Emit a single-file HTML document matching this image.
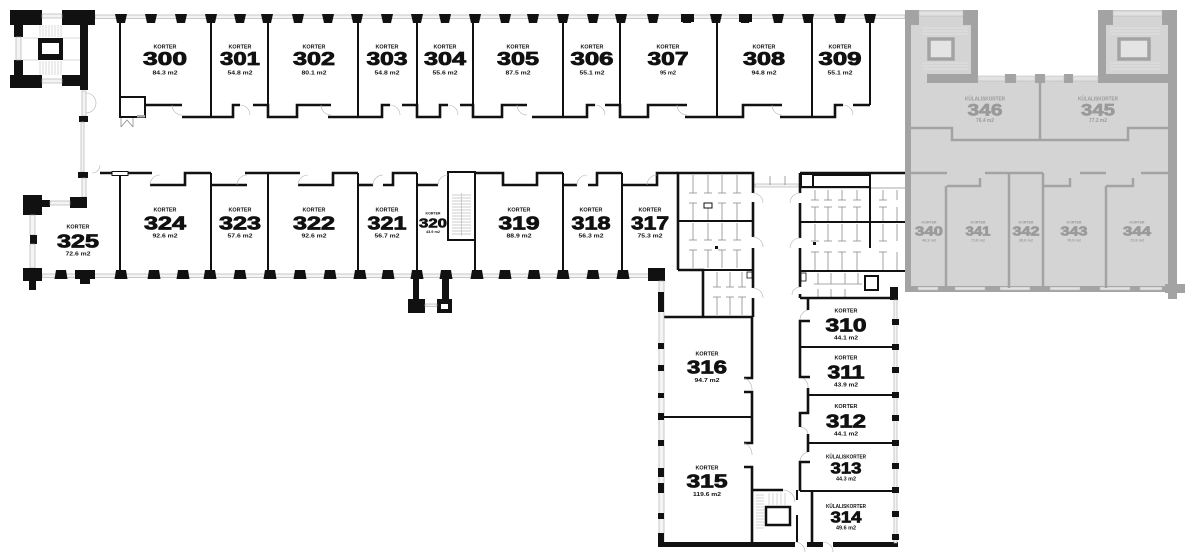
<!DOCTYPE html>
<html><head><meta charset="utf-8"><title>Korrus 3</title>
<style>
html,body{margin:0;padding:0;background:#fff;width:1200px;height:559px;overflow:hidden}
svg{display:block}
text{font-family:"Liberation Sans",Arial,sans-serif;font-weight:bold;text-anchor:middle}
.k{font-size:5.5px;fill:#111}
.n{font-size:18px;fill:#111;stroke:#111;stroke-width:.8}
.a{font-size:5.5px;fill:#111}
.gk{font-size:5px;fill:#9a9a9a}
.gn{font-size:17px;fill:#9a9a9a;stroke:#9a9a9a;stroke-width:.7}
.w{stroke:#111;stroke-width:2.6;fill:none}
.p{stroke:#111;stroke-width:2;fill:none}
.t{stroke:#8c8c8c;stroke-width:.8;fill:none}
.win{stroke:#a8a8a8;stroke-width:.6;fill:#f4f4f4}
.gw{stroke:#a3a3a3;stroke-width:2.5;fill:none}
.arc{stroke:#b0b0b0;stroke-width:.6;fill:none}
</style></head><body>
<svg width="1200" height="559" viewBox="0 0 1200 559" xmlns="http://www.w3.org/2000/svg">
<defs>
<polygon id="pt" points="-6,14 6,14 4,23 -4,23" fill="#111"/>
<polygon id="pb" points="-5,270 5,270 6.5,279 -6.5,279" fill="#111"/>
<rect id="ep" x="892" y="-3" width="7" height="6" fill="#111"/>
</defs>

<!-- ================= GRAY WING ================= -->
<path d="M905,10 H978 V78 H1098 V10 H1177 V292 H905 Z" fill="#d4d4d4"/>
<g stroke="#e6e6e6" stroke-width=".8">
<line x1="922" y1="28" x2="968" y2="28"/><line x1="922" y1="31" x2="968" y2="31"/><line x1="922" y1="34" x2="968" y2="34"/>
<line x1="922" y1="63" x2="968" y2="63"/><line x1="922" y1="66" x2="968" y2="66"/><line x1="922" y1="69" x2="968" y2="69"/>
<line x1="1110" y1="28" x2="1160" y2="28"/><line x1="1110" y1="31" x2="1160" y2="31"/><line x1="1110" y1="34" x2="1160" y2="34"/>
<line x1="1110" y1="63" x2="1160" y2="63"/><line x1="1110" y1="66" x2="1160" y2="66"/><line x1="1110" y1="69" x2="1160" y2="69"/>
</g>
<g fill="#a3a3a3">
<rect x="905" y="10" width="14" height="15"/>
<rect x="905" y="10" width="6" height="282"/>
<rect x="963" y="10" width="15" height="15"/>
<rect x="971" y="10" width="7" height="73"/>
<rect x="927" y="74" width="51" height="9"/>
<rect x="1098" y="10" width="15" height="15"/>
<rect x="1098" y="10" width="8" height="73"/>
<rect x="1162" y="10" width="15" height="15"/>
<rect x="1168" y="10" width="9" height="282"/>
<rect x="1098" y="74" width="70" height="9"/>
<rect x="1005" y="74" width="11" height="9"/>
<rect x="1035" y="74" width="10" height="9"/>
<rect x="1064" y="74" width="9" height="9"/>
<rect x="905" y="286" width="272" height="6"/>
<rect x="1165" y="284" width="20" height="9"/>
<rect x="1168" y="292" width="9" height="7"/>
</g>
<g fill="#e2e2e2" stroke="#b5b5b5" stroke-width=".5">
<rect x="919" y="11" width="44" height="5"/>
<rect x="1113" y="11" width="49" height="5"/>
<rect x="978" y="76" width="27" height="5"/>
<rect x="1016" y="76" width="19" height="5"/>
<rect x="1045" y="76" width="19" height="5"/>
<rect x="1073" y="76" width="25" height="5"/>
<rect x="918" y="287" width="20" height="3"/>
<rect x="955" y="287" width="30" height="3"/>
<rect x="1000" y="287" width="30" height="3"/>
<rect x="1050" y="287" width="30" height="3"/>
<rect x="1100" y="287" width="30" height="3"/>
<rect x="1140" y="287" width="22" height="3"/>
</g>
<rect x="929" y="39" width="24" height="20" fill="#e4e4e4" stroke="#a3a3a3" stroke-width="3.5"/>
<rect x="1119" y="39" width="30" height="20" fill="#e4e4e4" stroke="#a3a3a3" stroke-width="3.5"/>
<g class="gw">
<polyline points="911,128 952,128 952,140 1128,140 1128,128 1168,128"/>
<line x1="1040" y1="83" x2="1040" y2="140"/>
<polyline points="907,173 947,173"/>
<polyline points="947,186 980,186 980,178"/>
<polyline points="985,173 1043,173"/>
<polyline points="1043,186 1070,186 1070,178"/>
<polyline points="1080,173 1106,173"/>
<polyline points="1106,186 1133,186 1133,178"/>
<polyline points="1141,173 1168,173"/>
<line x1="946" y1="186" x2="946" y2="288"/>
<line x1="1009" y1="173" x2="1009" y2="288"/>
<line x1="1043" y1="173" x2="1043" y2="288"/>
<line x1="1106" y1="186" x2="1106" y2="288"/>
</g>
<text class="gk" x="985" y="100.5" textLength="40" lengthAdjust="spacingAndGlyphs">KÜLALISKORTER</text>
<text class="gn" x="985" y="115.5" textLength="35" lengthAdjust="spacingAndGlyphs">346</text>
<text class="gk" x="985" y="122" textLength="18" lengthAdjust="spacingAndGlyphs">76.4 m2</text>
<text class="gk" x="1098" y="100.5" textLength="40" lengthAdjust="spacingAndGlyphs">KÜLALISKORTER</text>
<text class="gn" x="1098" y="115.5" textLength="34" lengthAdjust="spacingAndGlyphs">345</text>
<text class="gk" x="1098" y="122" textLength="18" lengthAdjust="spacingAndGlyphs">77.2 m2</text>
<g>
<text class="gk" x="929" y="223.5" style="font-size:4px" textLength="15" lengthAdjust="spacingAndGlyphs">KORTER</text>
<text class="gn" x="929" y="235.5" style="font-size:12.5px" textLength="28" lengthAdjust="spacingAndGlyphs">340</text>
<text class="gk" x="929" y="241.5" style="font-size:4px" textLength="14" lengthAdjust="spacingAndGlyphs">43.3 m2</text>
<text class="gk" x="978" y="223.5" style="font-size:4px" textLength="15" lengthAdjust="spacingAndGlyphs">KORTER</text>
<text class="gn" x="978" y="235.5" style="font-size:12.5px" textLength="25" lengthAdjust="spacingAndGlyphs">341</text>
<text class="gk" x="978" y="241.5" style="font-size:4px" textLength="14" lengthAdjust="spacingAndGlyphs">71.8 m2</text>
<text class="gk" x="1026" y="223.5" style="font-size:4px" textLength="15" lengthAdjust="spacingAndGlyphs">KORTER</text>
<text class="gn" x="1026" y="235.5" style="font-size:12.5px" textLength="27" lengthAdjust="spacingAndGlyphs">342</text>
<text class="gk" x="1026" y="241.5" style="font-size:4px" textLength="14" lengthAdjust="spacingAndGlyphs">39.8 m2</text>
<text class="gk" x="1074" y="223.5" style="font-size:4px" textLength="15" lengthAdjust="spacingAndGlyphs">KORTER</text>
<text class="gn" x="1074" y="235.5" style="font-size:12.5px" textLength="27" lengthAdjust="spacingAndGlyphs">343</text>
<text class="gk" x="1074" y="241.5" style="font-size:4px" textLength="14" lengthAdjust="spacingAndGlyphs">70.9 m2</text>
<text class="gk" x="1137" y="223.5" style="font-size:4px" textLength="15" lengthAdjust="spacingAndGlyphs">KORTER</text>
<text class="gn" x="1137" y="235.5" style="font-size:12.5px" textLength="28" lengthAdjust="spacingAndGlyphs">344</text>
<text class="gk" x="1137" y="241.5" style="font-size:4px" textLength="14" lengthAdjust="spacingAndGlyphs">72.8 m2</text>
</g>

<!-- ================= FACADES ================= -->
<rect x="95" y="15" width="810" height="3.5" class="win"/>
<use href="#pt" x="121"/><use href="#pt" x="151"/><use href="#pt" x="181"/><use href="#pt" x="211"/>
<use href="#pt" x="240"/><use href="#pt" x="267"/><use href="#pt" x="298"/><use href="#pt" x="328"/>
<use href="#pt" x="357"/><use href="#pt" x="387"/><use href="#pt" x="417"/><use href="#pt" x="445"/>
<use href="#pt" x="475"/><use href="#pt" x="505"/><use href="#pt" x="533"/><use href="#pt" x="563"/>
<use href="#pt" x="593"/><use href="#pt" x="621"/><use href="#pt" x="653"/><use href="#pt" x="687"/>
<use href="#pt" x="716"/><use href="#pt" x="745"/><use href="#pt" x="778"/><use href="#pt" x="808"/>
<use href="#pt" x="840"/><use href="#pt" x="870"/>
<rect x="681" y="14" width="13" height="8" fill="#111"/>
<rect x="739" y="14" width="13" height="8" fill="#111"/>

<rect x="42" y="274" width="618" height="3.5" class="win"/>
<use href="#pb" x="61"/><use href="#pb" x="121"/><use href="#pb" x="154"/><use href="#pb" x="183"/>
<use href="#pb" x="210"/><use href="#pb" x="240"/><use href="#pb" x="270"/><use href="#pb" x="300"/>
<use href="#pb" x="330"/><use href="#pb" x="360"/><use href="#pb" x="388"/><use href="#pb" x="417"/>
<use href="#pb" x="446"/><use href="#pb" x="477"/><use href="#pb" x="505"/><use href="#pb" x="534"/>
<use href="#pb" x="563"/><use href="#pb" x="593"/><use href="#pb" x="623"/>
<g fill="#111">
<rect x="75" y="270" width="20" height="9"/><rect x="80" y="278" width="10" height="6"/>
<rect x="648" y="268" width="17" height="13"/>
<!-- south tower bits -->
<rect x="413" y="278" width="6" height="22"/>
<rect x="408" y="299" width="17" height="14"/>
<rect x="442" y="278" width="7" height="22"/>
<rect x="437" y="299" width="15" height="14"/>
</g>
<rect x="441" y="304" width="7" height="5" fill="#fff"/>
<rect x="425" y="304" width="12" height="2.5" class="win"/>

<!-- ================= WEST TOWER ================= -->
<g stroke="#cfcfcf" stroke-width=".8">
<line x1="40" y1="25" x2="40" y2="37"/><line x1="43" y1="25" x2="43" y2="37"/><line x1="46" y1="25" x2="46" y2="37"/><line x1="49" y1="25" x2="49" y2="37"/><line x1="52" y1="25" x2="52" y2="37"/><line x1="55" y1="25" x2="55" y2="37"/><line x1="58" y1="25" x2="58" y2="37"/><line x1="61" y1="25" x2="61" y2="37"/>
<line x1="40" y1="61" x2="40" y2="75"/><line x1="43" y1="61" x2="43" y2="75"/><line x1="46" y1="61" x2="46" y2="75"/><line x1="49" y1="61" x2="49" y2="75"/><line x1="52" y1="61" x2="52" y2="75"/><line x1="55" y1="61" x2="55" y2="75"/><line x1="58" y1="61" x2="58" y2="75"/><line x1="61" y1="61" x2="61" y2="75"/>
<line x1="23" y1="38" x2="38" y2="38"/><line x1="23" y1="60" x2="38" y2="60"/>
<line x1="63" y1="38" x2="80" y2="38"/><line x1="63" y1="60" x2="80" y2="60"/>
</g>
<g fill="#111">
<rect x="10" y="10" width="32" height="15"/>
<rect x="14" y="10" width="9" height="27"/>
<rect x="14" y="60" width="9" height="28"/>
<rect x="10" y="75" width="32" height="13"/>
<rect x="62" y="10" width="33" height="15"/>
<rect x="80" y="10" width="8" height="80"/>
<rect x="62" y="75" width="26" height="11"/>
<rect x="38" y="38" width="25" height="22"/>
</g>
<rect x="42" y="43" width="17" height="11" fill="#fff"/>
<rect x="42" y="14" width="20" height="4" class="win"/>
<rect x="42" y="79" width="20" height="4" class="win"/>
<rect x="16" y="37" width="5" height="23" class="win"/>

<!-- west corridor wall + 325 -->
<rect x="82" y="91" width="4" height="25" class="win"/>
<path d="M86,93 A10,10 0 0 1 86,113" class="arc"/>
<rect x="79" y="116" width="9" height="6" fill="#111"/>
<rect x="81" y="122" width="3" height="50" class="win"/>
<rect x="78" y="172" width="10" height="6" fill="#111"/>
<rect x="82" y="178" width="4" height="19" class="win"/>
<rect x="70" y="197" width="17" height="11" fill="#111"/>
<rect x="42" y="200" width="8" height="7" fill="#111"/>
<rect x="50" y="201" width="20" height="4" class="win"/>
<rect x="23" y="195" width="19" height="20" fill="#111"/>
<rect x="30" y="215" width="5" height="20" class="win"/>
<rect x="30" y="235" width="7" height="9" fill="#111"/>
<rect x="30" y="244" width="5" height="24" class="win"/>
<rect x="23" y="268" width="19" height="13" fill="#111"/>
<rect x="29" y="280" width="7" height="10" fill="#111"/>
<path d="M92,173 A8,8 0 0 0 100,165" class="arc"/>

<!-- ================= NORTH WING ================= -->
<g class="p">
<line x1="120" y1="17" x2="120" y2="97"/>
<line x1="211" y1="17" x2="211" y2="117"/>
<line x1="268" y1="17" x2="268" y2="105"/>
<line x1="358" y1="17" x2="358" y2="117"/>
<line x1="417" y1="17" x2="417" y2="105"/>
<line x1="473" y1="17" x2="473" y2="105"/>
<line x1="563" y1="17" x2="563" y2="117"/>
<line x1="620" y1="17" x2="620" y2="105"/>
<line x1="717" y1="17" x2="717" y2="117"/>
<line x1="812" y1="17" x2="812" y2="117"/>
<line x1="870" y1="17" x2="870" y2="105"/>
<rect x="120" y="97" width="25" height="20"/>
</g>
<rect x="137" y="115" width="8" height="2.5" fill="#aaa"/>
<g class="t"><line x1="121" y1="118" x2="121" y2="127"/><line x1="133" y1="118" x2="133" y2="127"/><path d="M121,127 L127,120 L133,127"/></g>
<g class="w">
<polyline points="145,105 182,105"/>
<polyline points="182,117 233,117 233,105 240,105"/>
<polyline points="253,105 268,105 268,117 297,117 297,105 331,105"/>
<polyline points="328,117 382,117 382,105 390,105"/>
<polyline points="402,105 417,105 417,117 440,117 440,105 448,105"/>
<polyline points="460,105 473,105 473,117 502,117 502,105 527,105"/>
<polyline points="532,117 587,117 587,105 595,105"/>
<polyline points="605,105 620,105 620,117 648,117 648,105 687,105"/>
<polyline points="685,117 743,117 743,105 782,105"/>
<polyline points="780,117 835,117 835,105 843,105"/>
<polyline points="853,105 870,105"/>
</g>
<g class="arc">
<path d="M172,105 A10,10 0 0 0 182,115"/>
<path d="M240,105 A10,10 0 0 1 250,115"/>
<path d="M321,105 A10,10 0 0 0 331,115"/>
<path d="M390,105 A10,10 0 0 1 400,115"/>
<path d="M448,105 A10,10 0 0 1 458,115"/>
<path d="M517,105 A10,10 0 0 0 527,115"/>
<path d="M595,105 A10,10 0 0 1 605,115"/>
<path d="M677,105 A10,10 0 0 0 687,115"/>
<path d="M772,105 A10,10 0 0 0 782,115"/>
<path d="M843,105 A10,10 0 0 1 853,115"/>
</g>

<text class="k" x="165" y="48.5" textLength="23" lengthAdjust="spacingAndGlyphs">KORTER</text>
<text class="n" x="165" y="65" textLength="44" lengthAdjust="spacingAndGlyphs">300</text>
<text class="a" x="165" y="74.5" textLength="25" lengthAdjust="spacingAndGlyphs">84.3 m2</text>
<text class="k" x="240" y="48.5" textLength="23" lengthAdjust="spacingAndGlyphs">KORTER</text>
<text class="n" x="240" y="65" textLength="40" lengthAdjust="spacingAndGlyphs">301</text>
<text class="a" x="240" y="74.5" textLength="25" lengthAdjust="spacingAndGlyphs">54.8 m2</text>
<text class="k" x="314" y="48.5" textLength="23" lengthAdjust="spacingAndGlyphs">KORTER</text>
<text class="n" x="314" y="65" textLength="42" lengthAdjust="spacingAndGlyphs">302</text>
<text class="a" x="314" y="74.5" textLength="25" lengthAdjust="spacingAndGlyphs">80.1 m2</text>
<text class="k" x="387" y="48.5" textLength="23" lengthAdjust="spacingAndGlyphs">KORTER</text>
<text class="n" x="387" y="65" textLength="41" lengthAdjust="spacingAndGlyphs">303</text>
<text class="a" x="387" y="74.5" textLength="25" lengthAdjust="spacingAndGlyphs">54.8 m2</text>
<text class="k" x="445" y="48.5" textLength="23" lengthAdjust="spacingAndGlyphs">KORTER</text>
<text class="n" x="445" y="65" textLength="42" lengthAdjust="spacingAndGlyphs">304</text>
<text class="a" x="445" y="74.5" textLength="25" lengthAdjust="spacingAndGlyphs">55.6 m2</text>
<text class="k" x="518" y="48.5" textLength="23" lengthAdjust="spacingAndGlyphs">KORTER</text>
<text class="n" x="518" y="65" textLength="42" lengthAdjust="spacingAndGlyphs">305</text>
<text class="a" x="518" y="74.5" textLength="25" lengthAdjust="spacingAndGlyphs">87.5 m2</text>
<text class="k" x="592" y="48.5" textLength="23" lengthAdjust="spacingAndGlyphs">KORTER</text>
<text class="n" x="592" y="65" textLength="43" lengthAdjust="spacingAndGlyphs">306</text>
<text class="a" x="592" y="74.5" textLength="25" lengthAdjust="spacingAndGlyphs">55.1 m2</text>
<text class="k" x="668" y="48.5" textLength="23" lengthAdjust="spacingAndGlyphs">KORTER</text>
<text class="n" x="668" y="65" textLength="41" lengthAdjust="spacingAndGlyphs">307</text>
<text class="a" x="668" y="74.5" textLength="16" lengthAdjust="spacingAndGlyphs">95 m2</text>
<text class="k" x="764" y="48.5" textLength="23" lengthAdjust="spacingAndGlyphs">KORTER</text>
<text class="n" x="764" y="65" textLength="42" lengthAdjust="spacingAndGlyphs">308</text>
<text class="a" x="764" y="74.5" textLength="25" lengthAdjust="spacingAndGlyphs">94.8 m2</text>
<text class="k" x="840" y="48.5" textLength="23" lengthAdjust="spacingAndGlyphs">KORTER</text>
<text class="n" x="840" y="65" textLength="43" lengthAdjust="spacingAndGlyphs">309</text>
<text class="a" x="840" y="74.5" textLength="25" lengthAdjust="spacingAndGlyphs">55.1 m2</text>

<!-- ================= SOUTH ROW ================= -->
<g class="p">
<line x1="120" y1="173" x2="120" y2="275"/>
<line x1="211" y1="173" x2="211" y2="275"/>
<line x1="268" y1="173" x2="268" y2="275"/>
<line x1="358" y1="173" x2="358" y2="275"/>
<line x1="417" y1="173" x2="417" y2="275"/>
<line x1="475" y1="173" x2="475" y2="275"/>
<line x1="563" y1="173" x2="563" y2="275"/>
<line x1="622" y1="173" x2="622" y2="275"/>
<rect x="448" y="172" width="27" height="68"/>
</g>
<g class="w">
<polyline points="100,173 152,173"/>
<polyline points="150,185 185,185 185,173 211,173"/>
<polyline points="211,185 247,185"/>
<polyline points="245,173 300,173"/>
<polyline points="298,185 333,185 333,173 358,173"/>
<polyline points="358,185 373,185"/>
<polyline points="383,185 393,185 393,173 417,173"/>
<polyline points="417,185 438,185"/>
<polyline points="475,173 503,173 503,185 537,185 537,173 563,173"/>
<polyline points="563,185 577,185"/>
<polyline points="588,185 597,185 597,173 622,173"/>
<polyline points="622,185 657,185 657,173 678,173"/>
</g>
<rect x="112" y="171.5" width="16" height="4" fill="#fff" stroke="#111" stroke-width="1"/>
<g class="arc">
<path d="M150,185 A10,10 0 0 1 160,175"/>
<path d="M237,185 A10,10 0 0 1 247,175"/>
<path d="M298,185 A10,10 0 0 1 308,175"/>
<path d="M373,185 A10,10 0 0 1 383,175"/>
<path d="M438,185 A10,10 0 0 1 448,175"/>
<path d="M577,185 A10,10 0 0 1 587,175"/>
<path d="M647,185 A10,10 0 0 1 657,175"/>
</g>
<g stroke="#bdbdbd" stroke-width=".7">
<line x1="452" y1="195" x2="471" y2="195"/><line x1="452" y1="198" x2="471" y2="198"/><line x1="452" y1="201" x2="471" y2="201"/>
<line x1="452" y1="204" x2="471" y2="204"/><line x1="452" y1="207" x2="471" y2="207"/><line x1="452" y1="210" x2="471" y2="210"/>
<line x1="452" y1="213" x2="471" y2="213"/><line x1="452" y1="216" x2="471" y2="216"/><line x1="452" y1="219" x2="471" y2="219"/>
<line x1="452" y1="222" x2="471" y2="222"/><line x1="452" y1="225" x2="471" y2="225"/><line x1="452" y1="228" x2="471" y2="228"/>
<line x1="452" y1="231" x2="471" y2="231"/><line x1="452" y1="234" x2="471" y2="234"/>
<line x1="461.5" y1="193" x2="461.5" y2="236"/>
</g>

<text class="k" x="78" y="228.5" textLength="23" lengthAdjust="spacingAndGlyphs">KORTER</text>
<text class="n" x="78" y="247.5" textLength="42" lengthAdjust="spacingAndGlyphs">325</text>
<text class="a" x="78" y="255.5" textLength="25" lengthAdjust="spacingAndGlyphs">72.6 m2</text>
<text class="k" x="165" y="211.5" textLength="23" lengthAdjust="spacingAndGlyphs">KORTER</text>
<text class="n" x="165" y="229.5" textLength="42" lengthAdjust="spacingAndGlyphs">324</text>
<text class="a" x="165" y="237.5" textLength="25" lengthAdjust="spacingAndGlyphs">92.6 m2</text>
<text class="k" x="240" y="211.5" textLength="23" lengthAdjust="spacingAndGlyphs">KORTER</text>
<text class="n" x="240" y="229.5" textLength="42" lengthAdjust="spacingAndGlyphs">323</text>
<text class="a" x="240" y="237.5" textLength="25" lengthAdjust="spacingAndGlyphs">57.6 m2</text>
<text class="k" x="314" y="211.5" textLength="23" lengthAdjust="spacingAndGlyphs">KORTER</text>
<text class="n" x="314" y="229.5" textLength="42" lengthAdjust="spacingAndGlyphs">322</text>
<text class="a" x="314" y="237.5" textLength="25" lengthAdjust="spacingAndGlyphs">92.6 m2</text>
<text class="k" x="387" y="211.5" textLength="23" lengthAdjust="spacingAndGlyphs">KORTER</text>
<text class="n" x="387" y="229.5" textLength="39" lengthAdjust="spacingAndGlyphs">321</text>
<text class="a" x="387" y="237.5" textLength="25" lengthAdjust="spacingAndGlyphs">56.7 m2</text>
<text class="k" x="433" y="214.5" style="font-size:4px" textLength="15" lengthAdjust="spacingAndGlyphs">KORTER</text>
<text class="n" x="433" y="227.5" style="font-size:12.5px;stroke-width:.6" textLength="28" lengthAdjust="spacingAndGlyphs">320</text>
<text class="a" x="433" y="232.8" style="font-size:4px" textLength="14" lengthAdjust="spacingAndGlyphs">43.9 m2</text>
<text class="k" x="519" y="211.5" textLength="23" lengthAdjust="spacingAndGlyphs">KORTER</text>
<text class="n" x="519" y="229.5" textLength="41" lengthAdjust="spacingAndGlyphs">319</text>
<text class="a" x="519" y="237.5" textLength="25" lengthAdjust="spacingAndGlyphs">88.9 m2</text>
<text class="k" x="591" y="211.5" textLength="23" lengthAdjust="spacingAndGlyphs">KORTER</text>
<text class="n" x="591" y="229.5" textLength="39" lengthAdjust="spacingAndGlyphs">318</text>
<text class="a" x="591" y="237.5" textLength="25" lengthAdjust="spacingAndGlyphs">56.3 m2</text>
<text class="k" x="650" y="211.5" textLength="23" lengthAdjust="spacingAndGlyphs">KORTER</text>
<text class="n" x="650" y="229.5" textLength="38" lengthAdjust="spacingAndGlyphs">317</text>
<text class="a" x="650" y="237.5" textLength="25" lengthAdjust="spacingAndGlyphs">75.3 m2</text>

<!-- ================= LAVATORY BLOCK A ================= -->
<g class="t">
<line x1="693" y1="175" x2="693" y2="193"/><line x1="708" y1="175" x2="708" y2="193"/><line x1="722" y1="175" x2="722" y2="193"/><line x1="737" y1="175" x2="737" y2="193"/>
<line x1="689" y1="193" x2="697" y2="193"/><line x1="704" y1="193" x2="712" y2="193"/><line x1="718" y1="193" x2="726" y2="193"/><line x1="733" y1="193" x2="741" y2="193"/>
<line x1="693" y1="203" x2="693" y2="220"/><line x1="708" y1="208" x2="708" y2="220"/><line x1="722" y1="203" x2="722" y2="220"/><line x1="737" y1="203" x2="737" y2="220"/>
<line x1="689" y1="203" x2="697" y2="203"/><line x1="718" y1="203" x2="726" y2="203"/><line x1="733" y1="203" x2="741" y2="203"/>
<line x1="693" y1="223" x2="693" y2="240"/><line x1="708" y1="223" x2="708" y2="240"/><line x1="722" y1="223" x2="722" y2="240"/><line x1="737" y1="223" x2="737" y2="240"/>
<line x1="689" y1="240" x2="697" y2="240"/><line x1="704" y1="240" x2="712" y2="240"/><line x1="718" y1="240" x2="726" y2="240"/><line x1="733" y1="240" x2="741" y2="240"/>
<line x1="693" y1="250" x2="693" y2="268"/><line x1="708" y1="250" x2="708" y2="268"/><line x1="722" y1="250" x2="722" y2="268"/><line x1="737" y1="250" x2="737" y2="268"/>
<line x1="689" y1="250" x2="697" y2="250"/><line x1="704" y1="250" x2="712" y2="250"/><line x1="718" y1="250" x2="726" y2="250"/><line x1="733" y1="250" x2="741" y2="250"/>
<line x1="717" y1="272" x2="717" y2="287"/><line x1="730" y1="272" x2="730" y2="287"/><line x1="742" y1="272" x2="742" y2="287"/>
<line x1="713" y1="287" x2="721" y2="287"/><line x1="726" y1="287" x2="734" y2="287"/><line x1="738" y1="287" x2="746" y2="287"/>
<line x1="717" y1="297" x2="717" y2="315"/><line x1="730" y1="297" x2="730" y2="315"/><line x1="742" y1="297" x2="742" y2="315"/>
<line x1="713" y1="297" x2="721" y2="297"/><line x1="726" y1="297" x2="734" y2="297"/><line x1="738" y1="297" x2="746" y2="297"/>
</g>
<rect x="704" y="203" width="8" height="5" fill="#fff" stroke="#111" stroke-width="1"/>
<rect x="715" y="246" width="3" height="3" fill="#111"/>
<rect x="747" y="272" width="5" height="6" fill="none" stroke="#111" stroke-width=".8"/>
<g class="w">
<polyline points="678,270 678,173 753,173 753,193"/>
<line x1="753" y1="202" x2="753" y2="237"/>
<line x1="753" y1="248" x2="753" y2="288"/>
<line x1="753" y1="298" x2="753" y2="317"/>
<polyline points="678,270 703,270 703,317"/>
<line x1="660" y1="317" x2="753" y2="317"/>
</g>
<line class="p" x1="678" y1="221" x2="753" y2="221"/>
<line class="p" x1="703" y1="270" x2="753" y2="270" stroke-width="1.6"/>
<g class="arc">
<path d="M753,193 A10,10 0 0 1 763,203"/>
<path d="M753,237 A10,10 0 0 1 763,247"/>
<path d="M753,288 A10,10 0 0 1 763,298"/>
</g>

<!-- corridor glass door -->
<rect x="755" y="184" width="44" height="3" class="win"/>
<g class="t"><line x1="770" y1="176" x2="770" y2="185"/><line x1="785" y1="176" x2="785" y2="185"/></g>

<!-- ================= LAVATORY BLOCK B ================= -->
<g class="t">
<line x1="800" y1="188" x2="905" y2="188"/>
<line x1="815" y1="190" x2="815" y2="200"/><line x1="828" y1="190" x2="828" y2="200"/><line x1="842" y1="190" x2="842" y2="200"/><line x1="857" y1="190" x2="857" y2="200"/><line x1="883" y1="190" x2="883" y2="200"/><line x1="897" y1="190" x2="897" y2="200"/>
<line x1="811" y1="200" x2="819" y2="200"/><line x1="824" y1="200" x2="832" y2="200"/><line x1="838" y1="200" x2="846" y2="200"/><line x1="853" y1="200" x2="861" y2="200"/><line x1="879" y1="200" x2="887" y2="200"/>
<line x1="815" y1="207" x2="815" y2="221"/><line x1="828" y1="207" x2="828" y2="221"/><line x1="842" y1="207" x2="842" y2="221"/><line x1="857" y1="207" x2="857" y2="221"/><line x1="883" y1="207" x2="883" y2="221"/><line x1="897" y1="207" x2="897" y2="221"/>
<line x1="811" y1="207" x2="819" y2="207"/><line x1="824" y1="207" x2="832" y2="207"/><line x1="838" y1="207" x2="846" y2="207"/><line x1="853" y1="207" x2="861" y2="207"/><line x1="879" y1="207" x2="887" y2="207"/>
<line x1="815" y1="224" x2="815" y2="241"/><line x1="828" y1="224" x2="828" y2="241"/><line x1="842" y1="224" x2="842" y2="241"/><line x1="857" y1="224" x2="857" y2="241"/><line x1="883" y1="224" x2="883" y2="241"/><line x1="897" y1="224" x2="897" y2="241"/>
<line x1="811" y1="241" x2="819" y2="241"/><line x1="824" y1="241" x2="832" y2="241"/><line x1="838" y1="241" x2="846" y2="241"/><line x1="853" y1="241" x2="861" y2="241"/><line x1="879" y1="241" x2="887" y2="241"/>
<line x1="815" y1="252" x2="815" y2="270"/><line x1="828" y1="252" x2="828" y2="270"/><line x1="842" y1="252" x2="842" y2="270"/><line x1="857" y1="252" x2="857" y2="270"/><line x1="883" y1="252" x2="883" y2="270"/><line x1="897" y1="252" x2="897" y2="270"/>
<line x1="811" y1="252" x2="819" y2="252"/><line x1="824" y1="252" x2="832" y2="252"/><line x1="838" y1="252" x2="846" y2="252"/><line x1="853" y1="252" x2="861" y2="252"/><line x1="879" y1="252" x2="887" y2="252"/>
<line x1="818" y1="273" x2="818" y2="284"/><line x1="831" y1="273" x2="831" y2="284"/><line x1="845" y1="273" x2="845" y2="284"/><line x1="858" y1="273" x2="858" y2="284"/>
<line x1="814" y1="284" x2="862" y2="284"/>
<line x1="818" y1="289" x2="818" y2="297"/><line x1="831" y1="289" x2="831" y2="297"/><line x1="845" y1="289" x2="845" y2="297"/>
</g>
<rect x="801" y="273" width="5" height="8" fill="none" stroke="#111" stroke-width=".8"/>
<rect x="813" y="242" width="3" height="3" fill="#111"/>
<g class="w">
<line x1="800" y1="173" x2="905" y2="173"/>
<line x1="800" y1="173" x2="800" y2="193"/>
<line x1="800" y1="203" x2="800" y2="238"/>
<line x1="800" y1="248" x2="800" y2="287"/>
<line x1="800" y1="294" x2="800" y2="298"/>
<line x1="800" y1="298" x2="898" y2="298"/>
</g>
<rect class="p" x="801" y="174" width="12" height="13" stroke-width="1.6"/>
<rect class="p" x="813" y="175" width="57" height="12" stroke-width="1.4"/>
<line class="p" x1="800" y1="222" x2="905" y2="222" stroke-width="1.5"/>
<line class="p" x1="800" y1="271" x2="905" y2="271" stroke-width="1.5"/>
<line class="p" x1="870" y1="188" x2="870" y2="248" stroke-width="1.5"/>
<rect class="p" x="865" y="276" width="13" height="14" stroke-width="1.4"/>
<rect fill="#111" x="890" y="287" width="8" height="13"/>
<g class="arc">
<path d="M800,193 A10,10 0 0 0 790,203"/>
<path d="M800,238 A10,10 0 0 0 790,248"/>
<path d="M800,287 A8,8 0 0 0 792,295"/>
</g>

<!-- ================= EAST WING ================= -->
<rect x="659" y="281" width="5" height="262" class="win"/>
<g fill="#111">
<rect x="658" y="292" width="6" height="20"/>
<rect x="658" y="343" width="6" height="6"/>
<rect x="658" y="365" width="6" height="6"/>
<rect x="658" y="393" width="6" height="5"/>
<rect x="658" y="413" width="6" height="7"/>
<rect x="658" y="440" width="6" height="6"/>
<rect x="658" y="468" width="6" height="9"/>
<rect x="658" y="483" width="6" height="10"/>
<rect x="658" y="513" width="6" height="6"/>
<rect x="658" y="533" width="6" height="14"/>
<rect x="658" y="542" width="137" height="5"/>
<rect x="807" y="542" width="16" height="5"/>
<rect x="833" y="542" width="65" height="5"/>
</g>
<line class="p" x1="662" y1="417" x2="753" y2="417"/>
<g class="w">
<polyline points="752,317 752,378 744,378"/>
<polyline points="744,392 752,392 752,443 744,443"/>
<polyline points="744,467 752,467 752,543"/>
<line x1="753" y1="490" x2="783" y2="490"/>
</g>
<line class="p" x1="797" y1="490" x2="797" y2="500" stroke-width="1"/>
<line class="p" x1="797" y1="515" x2="797" y2="542" stroke-width="1"/>
<rect x="766" y="507" width="24" height="18" fill="none" stroke="#111" stroke-width="2.5"/>
<g stroke="#c4c4c4" stroke-width=".7">
<line x1="756" y1="495" x2="764" y2="495"/><line x1="756" y1="498" x2="764" y2="498"/><line x1="756" y1="501" x2="764" y2="501"/>
<line x1="756" y1="504" x2="764" y2="504"/><line x1="756" y1="507" x2="764" y2="507"/><line x1="756" y1="510" x2="764" y2="510"/>
<line x1="756" y1="513" x2="764" y2="513"/><line x1="756" y1="516" x2="764" y2="516"/><line x1="756" y1="519" x2="764" y2="519"/>
<line x1="756" y1="522" x2="764" y2="522"/><line x1="756" y1="525" x2="764" y2="525"/><line x1="756" y1="528" x2="764" y2="528"/>
<line x1="769" y1="493" x2="769" y2="505"/><line x1="773" y1="493" x2="773" y2="505"/><line x1="777" y1="493" x2="777" y2="505"/><line x1="781" y1="493" x2="781" y2="505"/><line x1="785" y1="493" x2="785" y2="505"/>
</g>
<g class="arc">
<path d="M744,378 A12,12 0 0 1 752,390"/>
<path d="M744,443 A12,12 0 0 1 752,455"/>
<path d="M783,490 A12,12 0 0 1 795,502"/>
<path d="M808,310 A10,10 0 0 0 800,320"/>
<path d="M800,377 A10,10 0 0 1 808,388"/>
<path d="M800,427 A8,8 0 0 1 808,434"/>
<path d="M808,452 A10,10 0 0 0 800,462"/>
<path d="M795,542 A10,10 0 0 1 805,552"/>
<path d="M823,542 A10,10 0 0 1 833,552"/>
</g>
<g class="w">
<line x1="808" y1="298" x2="808" y2="310"/>
<polyline points="810,321 800,321 800,377 810,377"/>
<polyline points="808,388 808,413 800,413 800,427"/>
<polyline points="808,434 808,452"/>
<polyline points="810,462 800,462 800,491"/>
<line x1="812" y1="491" x2="812" y2="543"/>
</g>
<g class="p">
<line x1="800" y1="347" x2="896" y2="347"/>
<line x1="808" y1="395" x2="896" y2="395"/>
<line x1="808" y1="443" x2="896" y2="443"/>
<line x1="800" y1="491" x2="896" y2="491"/>
</g>
<rect x="894" y="300" width="3" height="243" class="win"/>
<use href="#ep" y="322"/><use href="#ep" y="347"/><use href="#ep" y="370"/><use href="#ep" y="395"/>
<use href="#ep" y="418"/><use href="#ep" y="443"/><use href="#ep" y="466"/><use href="#ep" y="490"/>
<use href="#ep" y="514"/><use href="#ep" y="537"/>

<text class="k" x="707" y="355.5" textLength="23" lengthAdjust="spacingAndGlyphs">KORTER</text>
<text class="n" x="707" y="373.5" textLength="40" lengthAdjust="spacingAndGlyphs">316</text>
<text class="a" x="707" y="382" textLength="25" lengthAdjust="spacingAndGlyphs">94.7 m2</text>
<text class="k" x="707" y="469.5" textLength="23" lengthAdjust="spacingAndGlyphs">KORTER</text>
<text class="n" x="707" y="487.5" textLength="41" lengthAdjust="spacingAndGlyphs">315</text>
<text class="a" x="707" y="496" textLength="28" lengthAdjust="spacingAndGlyphs">119.6 m2</text>
<text class="k" x="846" y="312.5" textLength="23" lengthAdjust="spacingAndGlyphs">KORTER</text>
<text class="n" x="846" y="331.5" textLength="41" lengthAdjust="spacingAndGlyphs">310</text>
<text class="a" x="846" y="339.5" textLength="24" lengthAdjust="spacingAndGlyphs">44.1 m2</text>
<text class="k" x="846" y="359.5" textLength="23" lengthAdjust="spacingAndGlyphs">KORTER</text>
<text class="n" x="846" y="378.5" textLength="37" lengthAdjust="spacingAndGlyphs">311</text>
<text class="a" x="846" y="386.5" textLength="24" lengthAdjust="spacingAndGlyphs">43.9 m2</text>
<text class="k" x="846" y="408" textLength="23" lengthAdjust="spacingAndGlyphs">KORTER</text>
<text class="n" x="846" y="427.5" textLength="40" lengthAdjust="spacingAndGlyphs">312</text>
<text class="a" x="846" y="435.5" textLength="24" lengthAdjust="spacingAndGlyphs">44.1 m2</text>
<text class="k" x="846" y="458.5" style="font-size:5px" textLength="40" lengthAdjust="spacingAndGlyphs">KÜLALISKORTER</text>
<text class="n" x="846" y="473.5" style="font-size:15.5px;stroke-width:.7" textLength="31" lengthAdjust="spacingAndGlyphs">313</text>
<text class="a" x="846" y="480.5" style="font-size:5px" textLength="20" lengthAdjust="spacingAndGlyphs">44.3 m2</text>
<text class="k" x="846" y="508" style="font-size:5px" textLength="40" lengthAdjust="spacingAndGlyphs">KÜLALISKORTER</text>
<text class="n" x="846" y="522.5" style="font-size:15.5px;stroke-width:.7" textLength="31" lengthAdjust="spacingAndGlyphs">314</text>
<text class="a" x="846" y="529.5" style="font-size:5px" textLength="20" lengthAdjust="spacingAndGlyphs">49.6 m2</text>
</svg>
</body></html>
